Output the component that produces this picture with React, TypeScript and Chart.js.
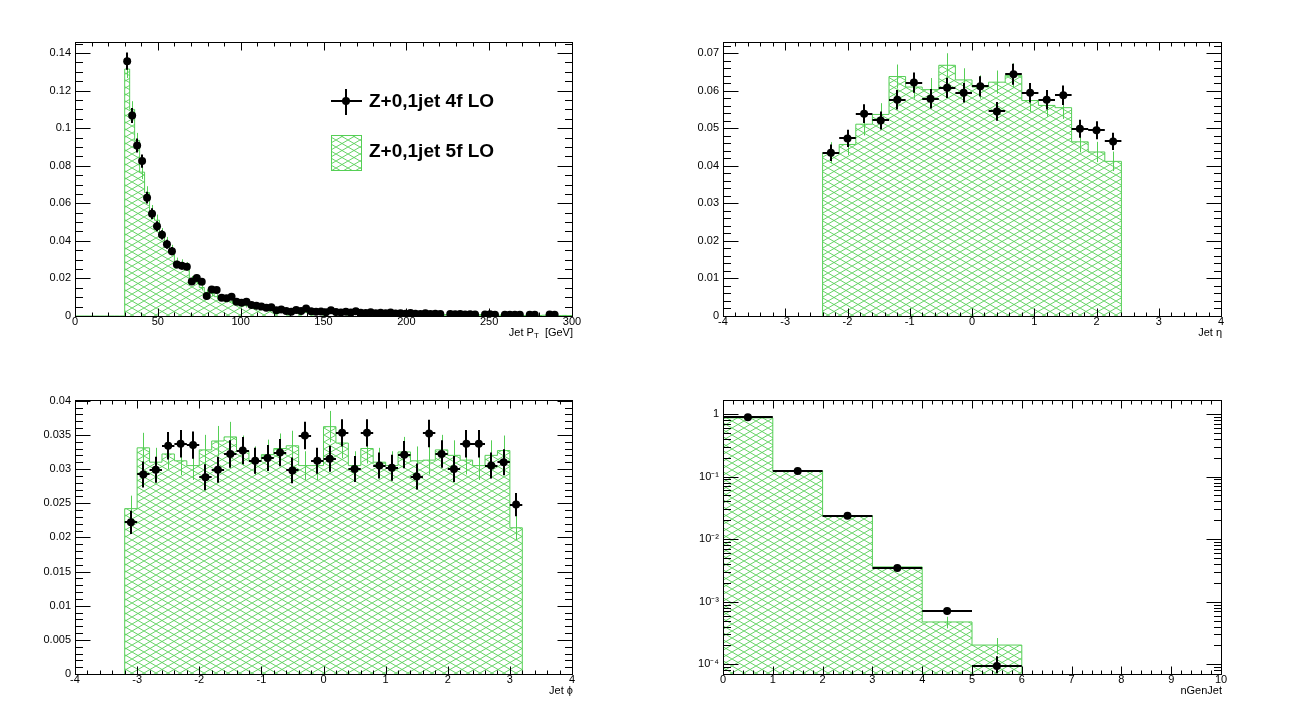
import { useEffect, useRef } from "react";
import { Chart, registerables } from "chart.js";

Chart.register(...registerables);

const GREEN = "#55cf55";
const FONT = "'Liberation Sans', Arial, Helvetica, sans-serif";
const LABEL_4F = "Z+0,1jet 4f LO";
const LABEL_5F = "Z+0,1jet 5f LO";

// ---- Jet pT : 100 bins of 3 GeV from 0 to 300
const ptLo = 0;
const ptBin = 3;
const pt4f = [
  null, null, null, null, null, null, null, null, null, null,
  0.1357, 0.1068, 0.0908, 0.0825, 0.063, 0.0545, 0.0478, 0.0432, 0.0382, 0.0345,
  0.0274, 0.0268, 0.0262, 0.0184, 0.0203, 0.0183, 0.0106, 0.0141, 0.0138, 0.0097,
  0.0094, 0.0103, 0.0076, 0.0071, 0.0076, 0.0058, 0.0055, 0.005, 0.0044, 0.0046,
  0.003, 0.0035, 0.0027, 0.0023, 0.0032, 0.0027, 0.004, 0.0025, 0.0022, 0.0024,
  0.002, 0.003, 0.0021, 0.0019, 0.0023, 0.0018, 0.0025, 0.0017, 0.0016, 0.002,
  0.0015, 0.0017, 0.0014, 0.0018, 0.0013, 0.0015, 0.0012, 0.0016, 0.0012, 0.0011,
  0.0014, 0.001, 0.0012, 0.001, null, 0.001, 0.0009, 0.0011, 0.0008, 0.0009,
  0.0008, null, 0.0008, 0.0009, 0.0007, null, 0.0007, 0.0006, 0.0007, 0.0006,
  null, 0.0007, 0.0006, null, null, 0.0008, 0.0007, null, null, null,
];
const pt4fErr = [
  0, 0, 0, 0, 0, 0, 0, 0, 0, 0,
  0.0046, 0.004, 0.0037, 0.0035, 0.0031, 0.0029, 0.0027, 0.0025, 0.0024, 0.0022,
  0.002, 0.002, 0.0019, 0.0016, 0.0017, 0.0016, 0.0012, 0.0014, 0.0013, 0.0011,
  0.0011, 0.0012, 0.001, 0.001, 0.001, 0.0009, 0.0009, 0.0008, 0.0008, 0.0008,
  0.0007, 0.0007, 0.0006, 0.0006, 0.0007, 0.0006, 0.0008, 0.0006, 0.0006, 0.0006,
  0.0005, 0.0006, 0.0005, 0.0005, 0.0006, 0.0005, 0.0006, 0.0005, 0.0005, 0.0005,
  0.0005, 0.0005, 0.0004, 0.0005, 0.0004, 0.0005, 0.0016, 0.0005, 0.0004, 0.0004,
  0.0004, 0.0004, 0.0004, 0.0004, 0, 0.0004, 0.0004, 0.0004, 0.0003, 0.0004,
  0.0003, 0, 0.0003, 0.0012, 0.0003, 0, 0.0003, 0.0003, 0.0003, 0.0003,
  0, 0.0003, 0.0003, 0, 0, 0.0004, 0.0003, 0, 0, 0,
];
const pt5f = [
  0, 0, 0, 0, 0, 0, 0, 0, 0, 0,
  0.1315, 0.11, 0.0935, 0.0766, 0.0657, 0.056, 0.051, 0.044, 0.0395, 0.0354,
  0.0289, 0.028, 0.0266, 0.0195, 0.0188, 0.0152, 0.0126, 0.012, 0.0103, 0.0099,
  0.0085, 0.0076, 0.0067, 0.0058, 0.0055, 0.005, 0.0044, 0.004, 0.0038, 0.0034,
  0.0031, 0.003, 0.0027, 0.0026, 0.0024, 0.0022, 0.0021, 0.002, 0.0019, 0.0021,
  0.0018, 0.0017, 0.0018, 0.0016, 0.0015, 0.0016, 0.0014, 0.0013, 0.0014, 0.0012,
  0.0013, 0.0011, 0.0012, 0.001, 0.0011, 0.001, 0.0009, 0.001, 0.0009, 0.0008,
  0.0009, 0.0008, 0.0007, 0.0008, 0.0007, 0.0007, 0.0006, 0.0007, 0.0006, 0.0006,
  0.0005, 0.0006, 0.0005, 0.0005, 0.0005, 0.0004, 0.0005, 0.0004, 0.0004, 0.0004,
  0.0003, 0.0004, 0.0003, 0.0003, 0.0004, 0.0003, 0.0003, 0.0002, 0.0003, 0.0002,
];
const pt5fErr = [
  0, 0, 0, 0, 0, 0, 0, 0, 0, 0,
  0.0048, 0.0044, 0.004, 0.0037, 0.0034, 0.0031, 0.003, 0.0028, 0.0026, 0.0025,
  0.0022, 0.0022, 0.0021, 0.0018, 0.0018, 0.0016, 0.0015, 0.0014, 0.0013, 0.0013,
  0.0012, 0.0011, 0.0011, 0.001, 0.001, 0.0009, 0.0009, 0.0008, 0.0008, 0.0008,
  0.0007, 0.0007, 0.0007, 0.0007, 0.0006, 0.0006, 0.0006, 0.0006, 0.0006, 0.0006,
  0.0006, 0.0005, 0.0006, 0.0005, 0.0005, 0.0005, 0.0005, 0.0005, 0.0005, 0.0005,
  0.0005, 0.0004, 0.0005, 0.0004, 0.0004, 0.0004, 0.0004, 0.0004, 0.0004, 0.0004,
  0.0004, 0.0004, 0.0003, 0.0004, 0.0003, 0.0003, 0.0003, 0.0003, 0.0003, 0.0003,
  0.0003, 0.0003, 0.0003, 0.0003, 0.0003, 0.0003, 0.0003, 0.0003, 0.0003, 0.0003,
  0.0002, 0.0003, 0.0002, 0.0002, 0.0003, 0.0002, 0.0002, 0.0002, 0.0002, 0.0002,
];
const ptXTicks = [0, 50, 100, 150, 200, 250, 300];
const ptYTicks = [0, 0.02, 0.04, 0.06, 0.08, 0.1, 0.12, 0.14];

// ---- Jet eta : 18 bins from -2.4 to 2.4
const etaLo = -2.4;
const etaBin = 4.8 / 18;
const eta4f = [0.0435, 0.0473, 0.0539, 0.0521, 0.0576, 0.0622, 0.0579, 0.0608, 0.0595, 0.0612, 0.0545, 0.0644, 0.0595, 0.0576, 0.0588, 0.0499, 0.0495, 0.0465];
const eta4fErr = [0.0022, 0.0023, 0.0025, 0.0024, 0.0026, 0.0027, 0.0026, 0.0027, 0.0026, 0.0027, 0.0025, 0.0028, 0.0026, 0.0026, 0.0026, 0.0024, 0.0024, 0.0023];
const eta5f = [0.0435, 0.0457, 0.0511, 0.0537, 0.0638, 0.061, 0.0603, 0.0668, 0.0629, 0.061, 0.0623, 0.0641, 0.0574, 0.0561, 0.0555, 0.0464, 0.0437, 0.0412];
const eta5fErr = [0.0028, 0.0028, 0.003, 0.003, 0.0032, 0.0031, 0.0031, 0.0032, 0.0031, 0.0031, 0.0031, 0.0032, 0.003, 0.003, 0.003, 0.0028, 0.0027, 0.0026];
const angXTicks = [-4, -3, -2, -1, 0, 1, 2, 3, 4];
const etaYTicks = [0, 0.01, 0.02, 0.03, 0.04, 0.05, 0.06, 0.07];

// ---- Jet phi : 32 bins from -3.2 to 3.2
const phiLo = -3.2;
const phiBin = 0.2;
const phi4f = [0.0222, 0.0292, 0.0299, 0.0334, 0.0337, 0.0335, 0.0288, 0.0299, 0.0322, 0.0327, 0.0312, 0.0316, 0.0324, 0.0298, 0.0349, 0.0312, 0.0315, 0.0353, 0.03, 0.0353, 0.0305, 0.0302, 0.0321, 0.0289, 0.0352, 0.0322, 0.03, 0.0337, 0.0337, 0.0305, 0.031, 0.0248];
const phi4fErr = [0.0017, 0.0019, 0.0019, 0.002, 0.002, 0.002, 0.0019, 0.0019, 0.002, 0.002, 0.0019, 0.0019, 0.002, 0.0019, 0.002, 0.0019, 0.0019, 0.002, 0.0019, 0.002, 0.0019, 0.0019, 0.002, 0.0019, 0.002, 0.002, 0.0019, 0.002, 0.002, 0.0019, 0.0019, 0.0017];
const phi5f = [0.0242, 0.0331, 0.031, 0.0322, 0.0312, 0.0305, 0.0328, 0.0341, 0.0347, 0.0327, 0.0312, 0.0321, 0.033, 0.0334, 0.0305, 0.0305, 0.0362, 0.0338, 0.0305, 0.033, 0.031, 0.0305, 0.0325, 0.0312, 0.0313, 0.0328, 0.032, 0.0313, 0.0305, 0.032, 0.0327, 0.0214];
const phi5fErr = [0.0019, 0.0022, 0.0021, 0.0022, 0.0021, 0.0021, 0.0022, 0.0022, 0.0022, 0.0022, 0.0021, 0.0022, 0.0022, 0.0022, 0.0021, 0.0021, 0.0023, 0.0022, 0.0021, 0.0022, 0.0021, 0.0021, 0.0022, 0.0021, 0.0021, 0.0022, 0.0022, 0.0021, 0.0021, 0.0022, 0.0022, 0.0018];
const phiYTicks = [0, 0.005, 0.01, 0.015, 0.02, 0.025, 0.03, 0.035, 0.04];

// ---- nGenJet : bins of 1 from 0
const nLo = 0;
const nBin = 1;
const ngen4f = [0.885, 0.123, 0.0236, 0.00345, 0.00071, 0.000094];
const ngen4fErr = [0.004, 0.0015, 0.0006, 0.00022, 0.00008, 0.00004];
const ngen5f = [0.864, 0.123, 0.0236, 0.0036, 0.000475, 0.000203];
const ngen5fErr = [0.005, 0.002, 0.0009, 0.0003, 0.0001, 0.00006];
const nXTicks = [0, 1, 2, 3, 4, 5, 6, 7, 8, 9, 10];
const nYTicks = [0.0001, 0.001, 0.01, 0.1, 1];
const nYLabels = ["10⁻⁴", "10⁻³", "10⁻²", "10⁻¹", "1"];

type Seg = { t: string; sub?: boolean };
type PanelProps = {
  x: number;
  y: number;
  w: number;
  xMin: number;
  xMax: number;
  yMin: number;
  yMax: number;
  log?: boolean;
  xTicks: number[];
  xMinor: number;
  yTicks: number[];
  yMinor: number[];
  yLabels?: string[];
  lo: number;
  bin: number;
  h4: (number | null)[];
  e4: number[];
  h5: number[];
  e5: number[];
  title: Seg[];
  legend?: boolean;
};

const PAD_H = 358;
const Y_AXIS_W = 60;
const X_AXIS_H = 30;

const steps = (a: number, b: number, s: number) => {
  const out: number[] = [];
  for (let i = 0; a + i * s <= b + 1e-9; i++) out.push(+(a + i * s).toFixed(6));
  return out;
};
const logMinors = (a: number, b: number) => {
  const out: number[] = [];
  for (let k = -6; k <= 1; k++)
    for (let m = 2; m <= 9; m++) {
      const v = m * Math.pow(10, k);
      if (v >= a && v <= b) out.push(v);
    }
  return out;
};

// ROOT-like hatch: shallow zig-zag mesh
function makeHatch(ctx: CanvasRenderingContext2D) {
  const t = document.createElement("canvas");
  t.width = 12;
  t.height = 7;
  const g = t.getContext("2d")!;
  g.strokeStyle = GREEN;
  g.lineWidth = 0.9;
  g.beginPath();
  g.moveTo(0, 7);
  g.lineTo(12, 0);
  g.moveTo(0, 0);
  g.lineTo(12, 7);
  g.stroke();
  return ctx.createPattern(t, "repeat") || GREEN;
}

function Panel(p: PanelProps) {
  const ref = useRef<HTMLCanvasElement>(null);

  useEffect(() => {
    const ctx = ref.current!.getContext("2d")!;
    const hatch = makeHatch(ctx);
    const base = p.log ? p.yMin : 0;
    const n = p.h5.length;
    const edge = (i: number) => p.lo + i * p.bin;

    const histData = [
      { x: edge(0), y: base },
      ...p.h5.map((v, i) => ({ x: edge(i), y: Math.max(v, base) })),
      { x: edge(n), y: base },
    ];
    const pointData = p.h4
      .map((v, i) => ({ x: edge(i) + p.bin / 2, y: v }))
      .filter((d) => d.y !== null);

    const xMinors = steps(p.xMin, p.xMax, p.xMinor);
    const tickFont = { family: FONT, size: 11, lineHeight: 1 };
    const fmt = (v: number) => String(+Number(v).toFixed(4));

    const deco = {
      id: "rootDeco",
      afterDatasetDraw(chart: any, args: any) {
        if (args.index !== 0) return;
        const c = chart.ctx;
        const xs = chart.scales.x;
        const ys = chart.scales.y;
        const ca = chart.chartArea;
        const lowClamp = (v: number) => Math.max(v, base);
        c.save();
        c.beginPath();
        c.rect(ca.left, ca.top, ca.right - ca.left, ca.bottom - ca.top);
        c.clip();
        // errors of the 5f histogram
        c.strokeStyle = GREEN;
        c.lineWidth = 1;
        c.beginPath();
        p.h5.forEach((v, i) => {
          const e = p.e5[i];
          if (!e || v <= 0) return;
          const px = Math.round(xs.getPixelForValue(edge(i) + p.bin / 2)) + 0.5;
          c.moveTo(px, ys.getPixelForValue(v + e));
          c.lineTo(px, ys.getPixelForValue(lowClamp(v - e)));
        });
        c.stroke();
        // errors of the 4f points
        c.strokeStyle = "#000";
        c.lineWidth = 2;
        c.beginPath();
        p.h4.forEach((v, i) => {
          if (v === null) return;
          const e = p.e4[i];
          const py = Math.round(ys.getPixelForValue(v));
          c.moveTo(xs.getPixelForValue(edge(i)), py);
          c.lineTo(xs.getPixelForValue(edge(i + 1)), py);
          if (e) {
            const px = Math.round(xs.getPixelForValue(edge(i) + p.bin / 2));
            c.moveTo(px, ys.getPixelForValue(v + e));
            c.lineTo(px, ys.getPixelForValue(lowClamp(v - e)));
          }
        });
        c.stroke();
        c.restore();
      },
      afterDraw(chart: any) {
        const c = chart.ctx;
        const xs = chart.scales.x;
        const ys = chart.scales.y;
        const { left: L, right: R, top: T, bottom: B } = chart.chartArea;
        const X = (v: number) => Math.round(xs.getPixelForValue(v)) + 0.5;
        const Y = (v: number) => Math.round(ys.getPixelForValue(v)) + 0.5;
        c.save();
        c.strokeStyle = "#000";
        c.lineWidth = 1;
        c.beginPath();
        const xt = (v: number, len: number) => {
          const px = X(v);
          c.moveTo(px, B + 0.5);
          c.lineTo(px, B + 0.5 - len);
          c.moveTo(px, T + 0.5);
          c.lineTo(px, T + 0.5 + len);
        };
        const yt = (v: number, len: number) => {
          if (v < p.yMin || v > p.yMax) return;
          const py = Y(v);
          c.moveTo(L + 0.5, py);
          c.lineTo(L + 0.5 + len, py);
          c.moveTo(R + 0.5, py);
          c.lineTo(R + 0.5 - len, py);
        };
        xMinors.forEach((v) => xt(v, 4));
        p.xTicks.forEach((v) => xt(v, 8));
        p.yMinor.forEach((v) => yt(v, 7.5));
        p.yTicks.forEach((v) => yt(v, 15));
        c.stroke();
        c.strokeRect(L + 0.5, T + 0.5, R - L, B - T);

        // axis title, right aligned under the axis
        c.fillStyle = "#000";
        c.textAlign = "left";
        c.textBaseline = "middle";
        const big = `11px ${FONT}`;
        const small = `8px ${FONT}`;
        let tw = 0;
        p.title.forEach((s) => {
          c.font = s.sub ? small : big;
          tw += c.measureText(s.t).width;
        });
        let tx = R + 1 - tw;
        const ty = B + 17;
        p.title.forEach((s) => {
          c.font = s.sub ? small : big;
          c.fillText(s.t, tx, s.sub ? ty + 3 : ty);
          tx += c.measureText(s.t).width;
        });

        if (p.legend) {
          const ds = chart.data.datasets;
          c.strokeStyle = "#000";
          c.lineWidth = 2;
          c.beginPath();
          c.moveTo(331, 101);
          c.lineTo(362, 101);
          c.moveTo(346, 89);
          c.lineTo(346, 115);
          c.stroke();
          c.beginPath();
          c.arc(346, 101, 4, 0, Math.PI * 2);
          c.fillStyle = "#000";
          c.fill();
          c.font = `bold 19px ${FONT}`;
          c.textBaseline = "alphabetic";
          c.fillText(ds[1].label, 369, 107);
          c.fillStyle = hatch;
          c.fillRect(331, 135, 31, 36);
          c.strokeStyle = GREEN;
          c.lineWidth = 1;
          c.strokeRect(331.5, 135.5, 30, 35);
          c.fillStyle = "#000";
          c.fillText(ds[0].label, 369, 157);
        }
        c.restore();
      },
    };

    const chart = new Chart(ctx, {
      type: "line",
      data: {
        datasets: [
          {
            label: LABEL_5F,
            data: histData,
            stepped: "before",
            borderColor: GREEN,
            borderWidth: 1,
            backgroundColor: hatch as any,
            fill: "origin",
            pointRadius: 0,
            order: 2,
          },
          {
            label: LABEL_4F,
            data: pointData as any,
            showLine: false,
            pointRadius: 4,
            pointBorderWidth: 0,
            pointBackgroundColor: "#000",
            borderColor: "#000",
            order: 1,
          },
        ],
      },
      options: {
        animation: false,
        responsive: false,
        events: [],
        layout: {
          padding: { left: 75 - Y_AXIS_W, top: 42, right: 76, bottom: PAD_H - 316 - X_AXIS_H },
        },
        plugins: { legend: { display: false }, tooltip: { enabled: false } },
        scales: {
          x: {
            type: "linear",
            min: p.xMin,
            max: p.xMax,
            grid: { display: false, drawTicks: false },
            border: { display: false },
            afterBuildTicks: (s: any) => {
              s.ticks = p.xTicks.map((v) => ({ value: v }));
            },
            afterFit: (s: any) => {
              s.height = X_AXIS_H;
            },
            ticks: {
              font: tickFont,
              color: "#000",
              padding: 0.5,
              maxRotation: 0,
              autoSkip: false,
              callback: (v: any) => fmt(v),
            },
          },
          y: {
            type: p.log ? "logarithmic" : "linear",
            min: p.yMin,
            max: p.yMax,
            grid: { display: false, drawTicks: false },
            border: { display: false },
            afterBuildTicks: (s: any) => {
              s.ticks = p.yTicks.map((v) => ({ value: v }));
            },
            afterFit: (s: any) => {
              s.width = Y_AXIS_W;
            },
            ticks: {
              font: tickFont,
              color: "#000",
              padding: 4,
              autoSkip: false,
              callback: (v: any) => {
                if (p.yLabels) {
                  const k = p.yTicks.findIndex((t) => Math.abs(t - v) / t < 1e-6);
                  return k >= 0 ? p.yLabels[k] : "";
                }
                return fmt(v);
              },
            },
          } as any,
        },
      },
      plugins: [deco as any],
    });

    return () => {
      chart.destroy();
    };
  }, []);

  return (
    <canvas
      ref={ref}
      width={p.w}
      height={PAD_H}
      style={{ position: "absolute", left: p.x, top: p.y }}
    />
  );
}

export default function App() {
  return (
    <div
      style={{
        position: "absolute",
        left: 0,
        top: 0,
        width: 1297,
        height: 716,
        background: "#fff",
        overflow: "hidden",
      }}
    >
      <Panel
        x={0}
        y={0}
        w={648}
        xMin={0}
        xMax={300}
        yMin={0}
        yMax={0.1459}
        xTicks={ptXTicks}
        xMinor={10}
        yTicks={ptYTicks}
        yMinor={steps(0, 0.1459, 0.005)}
        lo={ptLo}
        bin={ptBin}
        h4={pt4f}
        e4={pt4fErr}
        h5={pt5f}
        e5={pt5fErr}
        title={[{ t: "Jet P" }, { t: "T", sub: true }, { t: "  [GeV]" }]}
        legend
      />
      <Panel
        x={648}
        y={0}
        w={649}
        xMin={-4}
        xMax={4}
        yMin={0}
        yMax={0.073}
        xTicks={angXTicks}
        xMinor={0.2}
        yTicks={etaYTicks}
        yMinor={steps(0, 0.073, 0.002)}
        lo={etaLo}
        bin={etaBin}
        h4={eta4f}
        e4={eta4fErr}
        h5={eta5f}
        e5={eta5fErr}
        title={[{ t: "Jet η" }]}
      />
      <Panel
        x={0}
        y={358}
        w={648}
        xMin={-4}
        xMax={4}
        yMin={0}
        yMax={0.0401}
        xTicks={angXTicks}
        xMinor={0.2}
        yTicks={phiYTicks}
        yMinor={steps(0, 0.0401, 0.001)}
        lo={phiLo}
        bin={phiBin}
        h4={phi4f}
        e4={phi4fErr}
        h5={phi5f}
        e5={phi5fErr}
        title={[{ t: "Jet ϕ" }]}
      />
      <Panel
        x={648}
        y={358}
        w={649}
        xMin={0}
        xMax={10}
        yMin={0.000072}
        yMax={1.67}
        log
        xTicks={nXTicks}
        xMinor={0.2}
        yTicks={nYTicks}
        yMinor={logMinors(0.000072, 1.67)}
        yLabels={nYLabels}
        lo={nLo}
        bin={nBin}
        h4={ngen4f}
        e4={ngen4fErr}
        h5={ngen5f}
        e5={ngen5fErr}
        title={[{ t: "nGenJet" }]}
      />
    </div>
  );
}
